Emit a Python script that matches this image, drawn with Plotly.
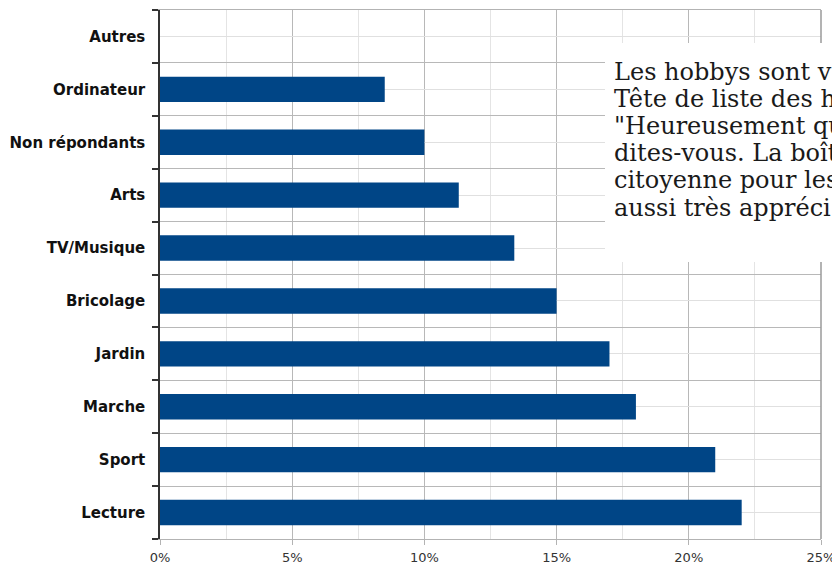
import plotly.graph_objects as go

# ---- data ----
categories = ["Lecture", "Sport", "Marche", "Jardin", "Bricolage",
              "TV/Musique", "Arts", "Non répondants", "Ordinateur", "Autres"]
values = [22, 21, 18, 17, 15, 13.4, 11.3, 10, 8.5, 0]
x_ticks = [0, 5, 10, 15, 20, 25]
x_tick_labels = ["0%", "5%", "10%", "15%", "20%", "25%"]
# text block as visible in the reference (cut by the right edge)
note_lines = [
    "Les hobbys sont v",
    "Tête de liste des h",
    "\"Heureusement qu",
    "dites-vous. La boît",
    "citoyenne pour les",
    "aussi très appréci",
]

W, H = 832, 568
L, R, T, B = 160, 11, 10, 29
pw, ph = W - L - R, H - T - B


def px_x(x):
    return (x - L) / pw


def px_y(y):
    return (H - B - y) / ph


pos = list(range(len(categories)))

fig = go.Figure()
fig.add_trace(go.Bar(
    y=pos, x=values, orientation="h",
    marker=dict(color="#004586", line=dict(width=0)),
    width=0.48, hoverinfo="skip",
))

fig.update_layout(
    width=W, height=H,
    margin=dict(l=L, r=R, t=T, b=B, autoexpand=False),
    paper_bgcolor="white", plot_bgcolor="white",
    showlegend=False,
    xaxis=dict(
        range=[0, 25], tickvals=x_ticks, ticktext=x_tick_labels,
        ticks="outside", ticklen=5, tickcolor="#b3b3b3",
        showgrid=True, gridcolor="#b8b8b8", gridwidth=1,
        minor=dict(dtick=2.5, tick0=0, showgrid=True, gridcolor="#e4e4e4", ticks=""),
        showline=True, linecolor="#b3b3b3", linewidth=1, mirror=True,
        zeroline=False, ticklabelstandoff=1, ticklabeloverflow="allow",
        automargin=False,
        tickfont=dict(family="DejaVu Sans", size=13, color="#333333"),
    ),
    yaxis=dict(
        range=[-0.5, len(categories) - 0.5],
        tickvals=pos, ticktext=categories, ticks="",
        showgrid=True, gridcolor="#e0e0e0",
        minor=dict(tickvals=[p - 0.5 for p in pos] + [len(categories) - 0.5],
                   ticks="outside", ticklen=6, tickcolor="#333333", tickwidth=1.5,
                   showgrid=True, gridcolor="#b8b8b8"),
        showline=True, linecolor="#333333", linewidth=1.5,
        zeroline=False, ticklabelstandoff=10, automargin=False,
        tickfont=dict(family="DejaVu Sans", size=15, color="#111111", weight="bold"),
    ),
)

shapes = [
    dict(type="line", xref="paper", yref="paper", x0=1, x1=1, y0=0, y1=1,
         line=dict(color="#9a9a9a", width=1.5), layer="above"),
    dict(type="rect", xref="paper", yref="paper",
         x0=px_x(605), x1=px_x(900), y0=px_y(262), y1=px_y(43),
         fillcolor="white", line=dict(width=0), layer="above"),
]
fig.update_layout(shapes=shapes)

baseline0, spacing, fs = 80, 27.2, 24
for i, line in enumerate(note_lines):
    cy = baseline0 + i * spacing - 0.346 * fs
    fig.add_annotation(
        xref="paper", yref="paper", x=px_x(612), y=px_y(cy),
        xanchor="left", yanchor="middle", showarrow=False, align="left",
        text=line, font=dict(family="DejaVu Serif", size=fs, color="#1a1a1a"),
    )

fig.write_html("out.html", config={"displayModeBar": False},
               post_script="document.body.style.margin='0';document.body.style.overflow='hidden';")
